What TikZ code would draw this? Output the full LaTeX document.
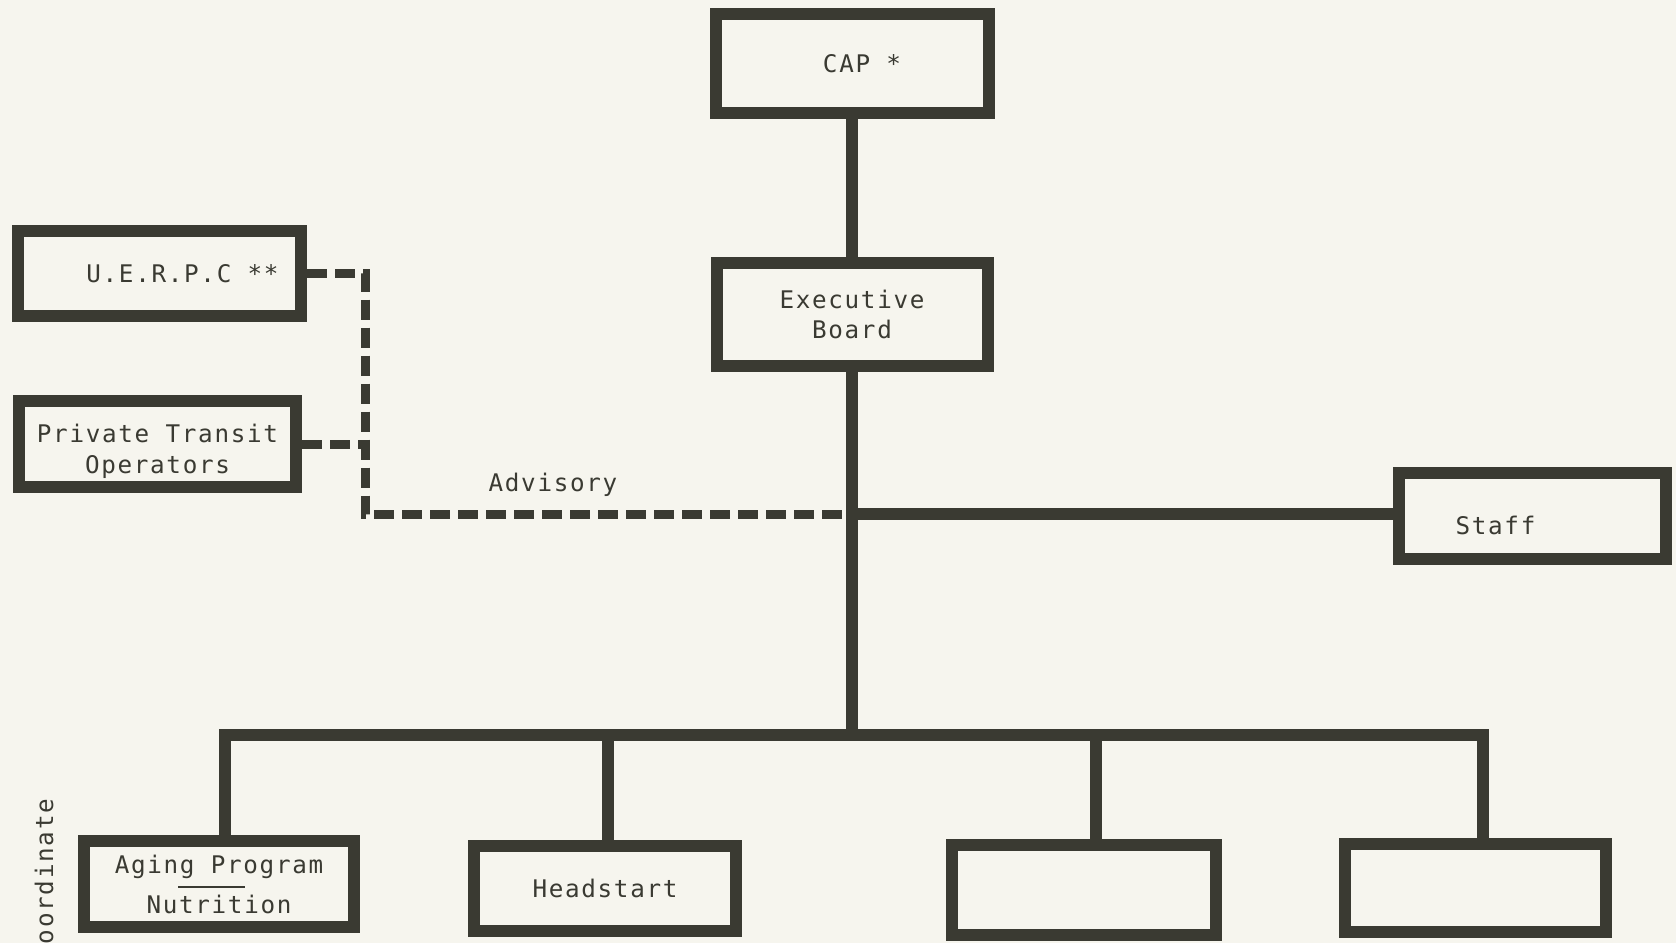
\documentclass[tikz,border=0pt]{standalone}
\usepackage{fontspec}
\usepackage{xcolor}
\usepackage{tikz}
\usetikzlibrary{calc}
\usetikzlibrary{positioning}

\newfontfamily\typewriter{DejaVu Sans Mono}[LetterSpace=7]
\definecolor{ink}{RGB}{58,58,50}
\definecolor{paper}{RGB}{246,245,238}

\begin{document}
\begin{tikzpicture}[-,color=ink,line width=0.12cm,
                    type text/.style={text=ink,font=\typewriter\fontsize{6.9pt}{8.7pt}\selectfont},
                    box node/.style={rectangle,draw=ink,line width=0.12cm,inner sep=0pt,align=center,type text},
                    advisory line/.style={line width=0.09cm,dash pattern=on 0.2cm off 0.08cm}]

  \useasboundingbox (0,0) rectangle (16.76,-9.43);
  \fill[paper] (0,0) rectangle (16.76,-9.43);

  \node[box node,minimum width=2.73cm,minimum height=0.99cm] (1) [shift={(8.52,-0.635)}] {\hspace*{0.2cm}\raisebox{-0.04cm}{CAP *}};
  \node[box node,minimum width=2.71cm,minimum height=1.03cm] (2) [shift={(8.52,-3.145)}] {Executive\\Board};

  \node[box node,minimum width=2.83cm,minimum height=0.85cm] (3) [shift={(1.595,-2.735)}] {\hspace*{0.46cm}U.E.R.P.C **};
  \node[box node,minimum width=2.77cm,minimum height=0.86cm] (4) [shift={(1.575,-4.44)}] {\rule{0pt}{0.33cm}Private Transit\\Operators};

  \node[box node,minimum width=2.67cm,minimum height=0.86cm] (5) [shift={(15.325,-5.16)}] {\rule{0pt}{0.37cm}Staff\hspace*{0.74cm}};

  \node[box node,minimum width=2.70cm,minimum height=0.86cm] (6) [shift={(2.19,-8.84)}] {Aging Program\\[2.7pt]Nutrition};
  \node[box node,minimum width=2.62cm,minimum height=0.85cm] (7) [shift={(6.05,-8.885)}] {Headstart};
  \node[box node,minimum width=2.64cm,minimum height=0.90cm] (8) [shift={(10.84,-8.90)}] {};
  \node[box node,minimum width=2.61cm,minimum height=0.88cm] (9) [shift={(14.755,-8.88)}] {};

  \node[type text,rotate=90,anchor=base west,inner sep=0pt] (side) at (0.53,-9.50) {oordinate};

  \coordinate (AV) at (3.65,-5.14);
  \coordinate (J) at (8.52,-5.14);
  \coordinate (D1) at (2.25,-7.35);
  \coordinate (D2) at (6.08,-7.35);
  \coordinate (D3) at (10.96,-7.35);
  \coordinate (D4) at (14.83,-7.35);

  \path (1) edge (2);
  \draw (2) -- (J |- D1);
  \draw (J) -- (J -| 5.west);

  \draw (6.north -| D1) -- (D1) -- (D4) -- (9.north -| D4);
  \foreach \d/\b in {D2/7,D3/8}
    \draw (\d) -- (\b.north -| \d);

  \draw[advisory line] (3.east) -| (AV) -- (J);
  \draw[advisory line] (4.east) -- (4.east -| AV);
  \path (AV) -- (J) node[pos=0.386,above,type text] {Advisory};

  \draw[line width=0.02cm] ($(6.center)+(-0.41,-0.03)$) -- ($(6.center)+(0.26,-0.03)$);

\end{tikzpicture}
\end{document}
